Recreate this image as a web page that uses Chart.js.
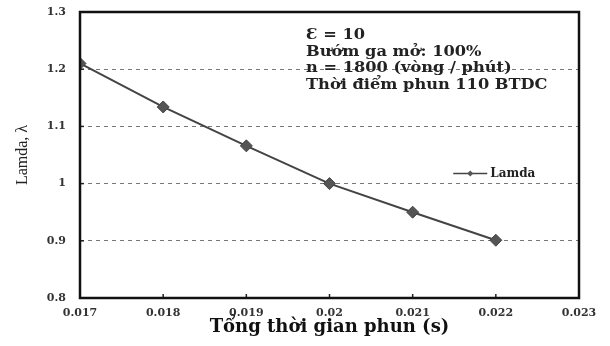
<!DOCTYPE html>
<html>
<head>
<meta charset="utf-8">
<script src="https://cdn.jsdelivr.net/npm/chart.js@4/dist/chart.umd.min.js"></script>
<style>
  html, body { margin: 0; padding: 0; background: #fff; }
  #wrap { width: 610px; height: 346px; }
</style>
</head>
<body>
<div id="wrap"><canvas id="c" width="610" height="346"></canvas></div>
<script>
// ---- data ----
const injectionTime = [0.017, 0.018, 0.019, 0.020, 0.021, 0.022];
const lamdaValues   = [1.21, 1.134, 1.066, 1.0, 0.95, 0.901];
const seriesLabel   = 'Lamda';
const xTicks = [0.017, 0.018, 0.019, 0.020, 0.021, 0.022, 0.023];
const yTicks = [0.8, 0.9, 1.0, 1.1, 1.2, 1.3];
const xTitle = 'Tổng thời gian phun (s)';
const yTitle = 'Lamda, λ';
const noteLines = ['Ɛ = 10', 'Bướm ga mở: 100%', 'n = 1800 (vòng / phút)', 'Thời điểm phun 110 BTDC'];

const SERIF_WIDE = '"DejaVu Serif", "Liberation Serif", serif';
const SERIF = '"Liberation Serif", "Times New Roman", "DejaVu Serif", serif';
const LINE_COLOR = '#444';

const framePlugin = {
  id: 'frame',
  afterDatasetsDraw(chart) {
    const { ctx, chartArea: a, scales } = chart;
    ctx.save();
    // inward tick marks
    ctx.strokeStyle = '#222';
    ctx.lineWidth = 1.5;
    xTicks.forEach(v => {
      const px = scales.x.getPixelForValue(v);
      ctx.beginPath(); ctx.moveTo(px, a.bottom); ctx.lineTo(px, a.bottom - 4); ctx.stroke();
    });
    yTicks.forEach(v => {
      const py = scales.y.getPixelForValue(v);
      ctx.beginPath(); ctx.moveTo(a.left, py); ctx.lineTo(a.left + 4, py); ctx.stroke();
    });
    // frame
    ctx.strokeStyle = '#111';
    ctx.lineWidth = 2.5;
    ctx.strokeRect(a.left, a.top, a.right - a.left, a.bottom - a.top);
    ctx.restore();
  },
  afterDraw(chart) {
    const { ctx, chartArea: a } = chart;
    ctx.save();
    // annotation text block
    ctx.fillStyle = '#222';
    ctx.font = 'bold 15px ' + SERIF_WIDE;
    ctx.textBaseline = 'middle';
    ctx.textAlign = 'left';
    const tx = a.left + (a.right - a.left) * 0.453;
    const ty0 = a.top + 23;
    noteLines.forEach((t, i) => {
      ctx.save();
      ctx.translate(tx, ty0 + i * 16.7);
      ctx.scale(1.08, 1);
      ctx.fillText(t, 0, 0);
      ctx.restore();
    });
    // legend
    const ds = chart.data.datasets[0];
    const lx = a.left + (a.right - a.left) * 0.748;
    const ly = chart.scales.y.getPixelForValue(1.0) - 10;
    ctx.strokeStyle = ds.borderColor;
    ctx.lineWidth = 1.5;
    ctx.beginPath(); ctx.moveTo(lx, ly); ctx.lineTo(lx + 34, ly); ctx.stroke();
    ctx.fillStyle = ds.pointBackgroundColor;
    ctx.beginPath();
    ctx.moveTo(lx + 17, ly - 3); ctx.lineTo(lx + 20, ly); ctx.lineTo(lx + 17, ly + 3); ctx.lineTo(lx + 14, ly);
    ctx.closePath(); ctx.fill();
    ctx.fillStyle = '#222';
    ctx.font = 'bold 12px ' + SERIF_WIDE;
    ctx.fillText(ds.label, lx + 37, ly);
    ctx.restore();
  }
};

const fmt = (v, d) => String(Number(Number(v).toFixed(d)));

new Chart(document.getElementById('c'), {
  type: 'line',
  data: {
    datasets: [{
      label: seriesLabel,
      data: injectionTime.map((x, i) => ({ x, y: lamdaValues[i] })),
      borderColor: LINE_COLOR,
      borderWidth: 2,
      pointStyle: 'rectRot',
      pointRadius: 6,
      pointBackgroundColor: '#555',
      pointBorderColor: '#444',
      pointBorderWidth: 1,
      tension: 0,
      fill: false
    }]
  },
  options: {
    responsive: false,
    animation: false,
    events: [],
    layout: { padding: { top: 12, right: 31, bottom: 0, left: 0 } },
    plugins: { legend: { display: false }, tooltip: { enabled: false } },
    scales: {
      x: {
        type: 'linear',
        min: 0.017, max: 0.023,
        afterFit: s => { s.height = 48; s.paddingLeft = 0; s.paddingRight = 0; },
        afterBuildTicks: s => { s.ticks = xTicks.map(v => ({ value: v })); },
        grid: { display: false, drawTicks: false },
        border: { display: false },
        ticks: {
          padding: 9,
          color: '#333',
          font: { family: SERIF_WIDE, size: 11, weight: 'bold' },
          maxRotation: 0,
          callback: v => fmt(v, 3)
        },
        title: {
          display: true, text: xTitle, color: '#111',
          font: { family: SERIF_WIDE, size: 18, weight: 'bold' },
          padding: { top: 0, bottom: 8 }
        }
      },
      y: {
        min: 0.8, max: 1.3,
        afterFit: s => { s.width = 80; s.paddingTop = 0; s.paddingBottom = 0; },
        afterBuildTicks: s => { s.ticks = yTicks.map(v => ({ value: v })); },
        grid: {
          drawTicks: false,
          color: c => (c.tick && (Math.abs(c.tick.value - 0.8) < 1e-6 || Math.abs(c.tick.value - 1.3) < 1e-6)) ? 'rgba(0,0,0,0)' : '#777',
          lineWidth: 1
        },
        border: { display: false, dash: [4, 4] },
        ticks: {
          padding: 14,
          color: '#333',
          font: { family: SERIF_WIDE, size: 11, weight: 'bold' },
          callback: v => fmt(v, 1)
        },
        title: {
          display: true, text: yTitle, color: '#222',
          font: { family: SERIF, size: 16 },
          padding: { top: 13, bottom: 0 }
        }
      }
    }
  },
  plugins: [framePlugin]
});
</script>
</body>
</html>
